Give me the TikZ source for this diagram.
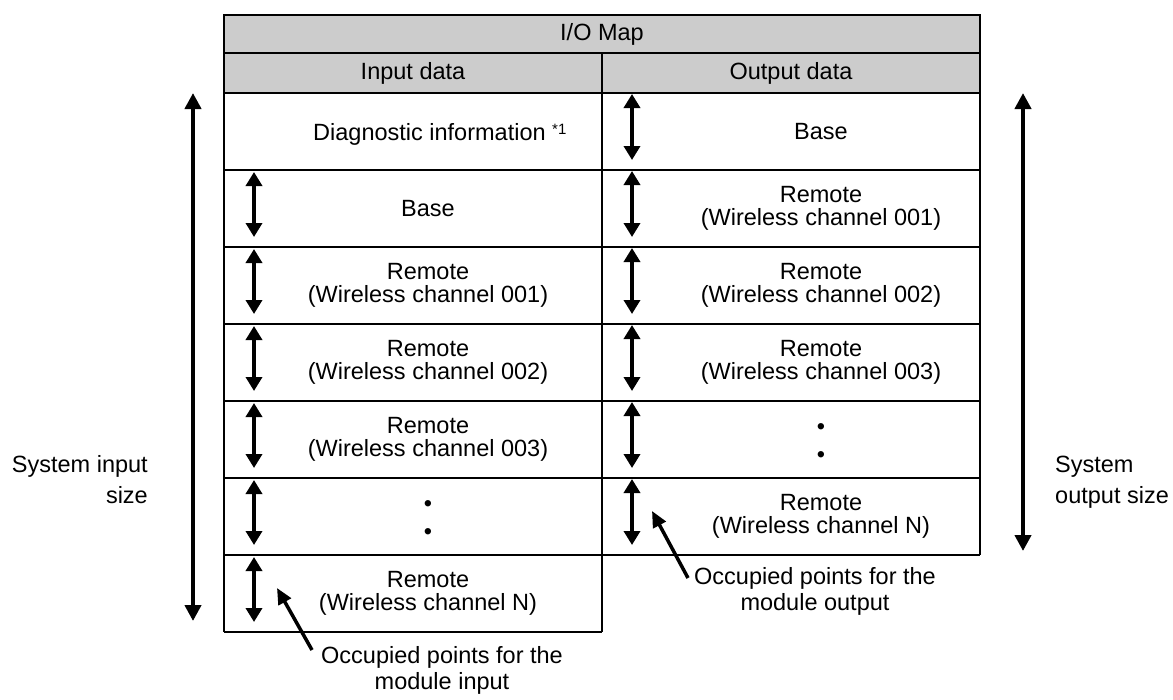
\documentclass[tikz,border=0pt]{standalone}
\usepackage{fontspec}
\setmainfont{Liberation Sans}
\usetikzlibrary{arrows.meta}
\begin{document}
\begin{tikzpicture}[x=1pt,y=-1pt,
  gridline/.style={line width=2pt},
  hdr/.style={fill=black!20},
  txt/.style={font=\fontsize{23.5}{23}\selectfont, align=center, inner sep=0pt},
  sidetxt/.style={font=\fontsize{23.5}{31}\selectfont, inner sep=0pt},
  notetxt/.style={font=\fontsize{23.5}{26}\selectfont, align=center, inner sep=0pt},
  bigarr/.style={line width=4pt, {Triangle[width=16pt,length=16pt]}-{Triangle[width=16pt,length=16pt]}},
  smallarr/.style={line width=4pt, {Triangle[width=16pt,length=14pt]}-{Triangle[width=16pt,length=14pt]}},
  ptr/.style={line width=3.5pt, -{Triangle[width=14pt,length=16pt]}}
]
\useasboundingbox (0,0) rectangle (1173,699);

% header fill
\fill[hdr] (224,15) rectangle (980,93);

% table lines
\draw[gridline] (224,632) -- (224,15) -- (980,15) -- (980,555);
\draw[gridline] (224,53) -- (980,53);
\draw[gridline] (224,93) -- (980,93);
\draw[gridline] (602,53) -- (602,632);
\foreach \k in {1,...,5} {
  \draw[gridline] (224,93+77*\k) -- (980,93+77*\k);
}
\draw[gridline] (224,555) -- (980,555);
\draw[gridline] (224,632) -- (602,632);

% header texts
\node[txt] (title) at (602,34) {I/O Map};
\node[txt] (inhdr) at (413,73) {Input data};
\node[txt] (outhdr) at (791,73) {Output data};

% input column
\node[txt, anchor=base west] (diag) at (313,140) {Diagnostic information\ {\fontsize{15}{15}\selectfont\raisebox{6pt}{*1}}};
\node[txt] (in1) at (428,208.5) {Base};
\node[txt] (in2) at (428,285.5) {Remote\\(Wireless channel 001)};
\node[txt] (in3) at (428,362.5) {Remote\\(Wireless channel 002)};
\node[txt] (in4) at (428,439.5) {Remote\\(Wireless channel 003)};
\node[txt] (in5) at (428,520.5) {•\\[5pt]•};
\node[txt] (in6) at (428,593.5) {Remote\\(Wireless channel N)};

% output column
\node[txt] (out0) at (821,131.5) {Base};
\node[txt] (out1) at (821,208.5) {Remote\\(Wireless channel 001)};
\node[txt] (out2) at (821,285.5) {Remote\\(Wireless channel 002)};
\node[txt] (out3) at (821,362.5) {Remote\\(Wireless channel 003)};
\node[txt] (out4) at (821,443.5) {•\\[5pt]•};
\node[txt] (out5) at (821,516.5) {Remote\\(Wireless channel N)};

% small arrows, input column
\foreach \k in {1,...,6} {
  \coordinate (ia\k) at (254,93+77*\k+2);
  \coordinate (ib\k) at (254,93+77*\k+67);
  \draw[smallarr] (ia\k) -- (ib\k);
}
% small arrows, output column
\foreach \k in {0,...,5} {
  \coordinate (oa\k) at (632,93+77*\k+1);
  \coordinate (ob\k) at (632,93+77*\k+67);
  \draw[smallarr] (oa\k) -- (ob\k);
}

% long arrows
\coordinate (lt) at (193,93);
\coordinate (lb) at (193,621);
\draw[bigarr] (lt) -- (lb);
\coordinate (rt) at (1023,93);
\coordinate (rb) at (1023,551);
\draw[bigarr] (rt) -- (rb);

% side labels
\node[sidetxt, align=right, anchor=east] (sysin) at (148,480) {System input\\size};
\node[sidetxt, align=left, anchor=west] (sysout) at (1055,482.5) {System\\output size};

% notes
\node[notetxt] (notein) at (442,670) {Occupied points for the\\module input};
\node[notetxt] (noteout) at (815,591) {Occupied points for the\\module output};
\coordinate (pin) at (277,588);
\coordinate (pins) at (312,650);
\coordinate (pout) at (652,511);
\coordinate (pouts) at (688,578);
\draw[ptr] (pins) -- (pin);
\draw[ptr] (pouts) -- (pout);
\end{tikzpicture}
\end{document}
